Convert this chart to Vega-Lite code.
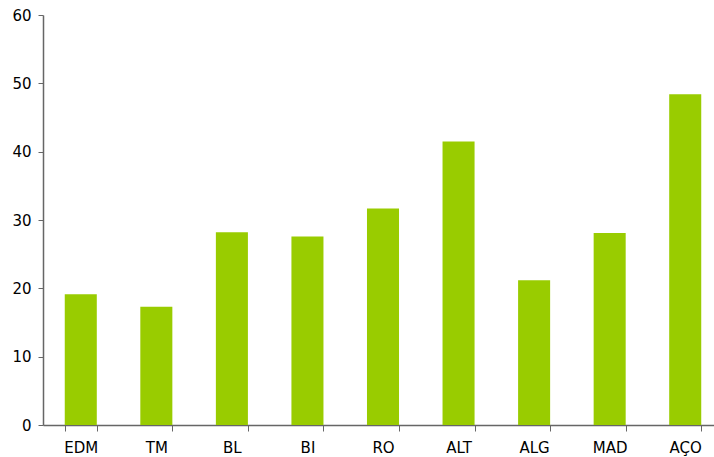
{
  "$schema": "https://vega.github.io/schema/vega-lite/v6.json",
  "width": 680,
  "height": 410,
  "autosize": {"type": "none"},
  "padding": {"left": 43, "top": 15, "right": 0, "bottom": 32},
  "background": "white",
  "config": {"view": {"stroke": null}, "font": "DejaVu Sans"},
  "data": {"values": [
    {"region": "EDM", "value": 19.15},
    {"region": "TM", "value": 17.3},
    {"region": "BL", "value": 28.2},
    {"region": "BI", "value": 27.6},
    {"region": "RO", "value": 31.7},
    {"region": "ALT", "value": 41.5},
    {"region": "ALG", "value": 21.2},
    {"region": "MAD", "value": 28.1},
    {"region": "AÇO", "value": 48.4}
  ]},
  "mark": {"type": "bar", "color": "#99cc00"},
  "encoding": {
    "x": {
      "field": "region", "type": "nominal", "sort": null,
      "scale": {"paddingInner": 0.576, "paddingOuter": 0.288},
      "axis": {"title": null, "labelAngle": 0, "tickBand": "extent", "domainColor": "#666666", "tickColor": "#666666", "tickSize": 6, "labelPadding": 9, "labelFontSize": 15, "labelColor": "#000000", "labelFont": "DejaVu Sans", "domainWidth": 1.5}
    },
    "y": {
      "field": "value", "type": "quantitative",
      "scale": {"domain": [0, 60]},
      "axis": {"title": null, "grid": false, "values": [0,10,20,30,40,50,60], "domainColor": "#666666", "tickColor": "#666666", "tickSize": 5, "labelPadding": 7, "labelFontSize": 15, "labelColor": "#000000", "labelFont": "DejaVu Sans", "domainWidth": 1.5}
    }
  }
}
